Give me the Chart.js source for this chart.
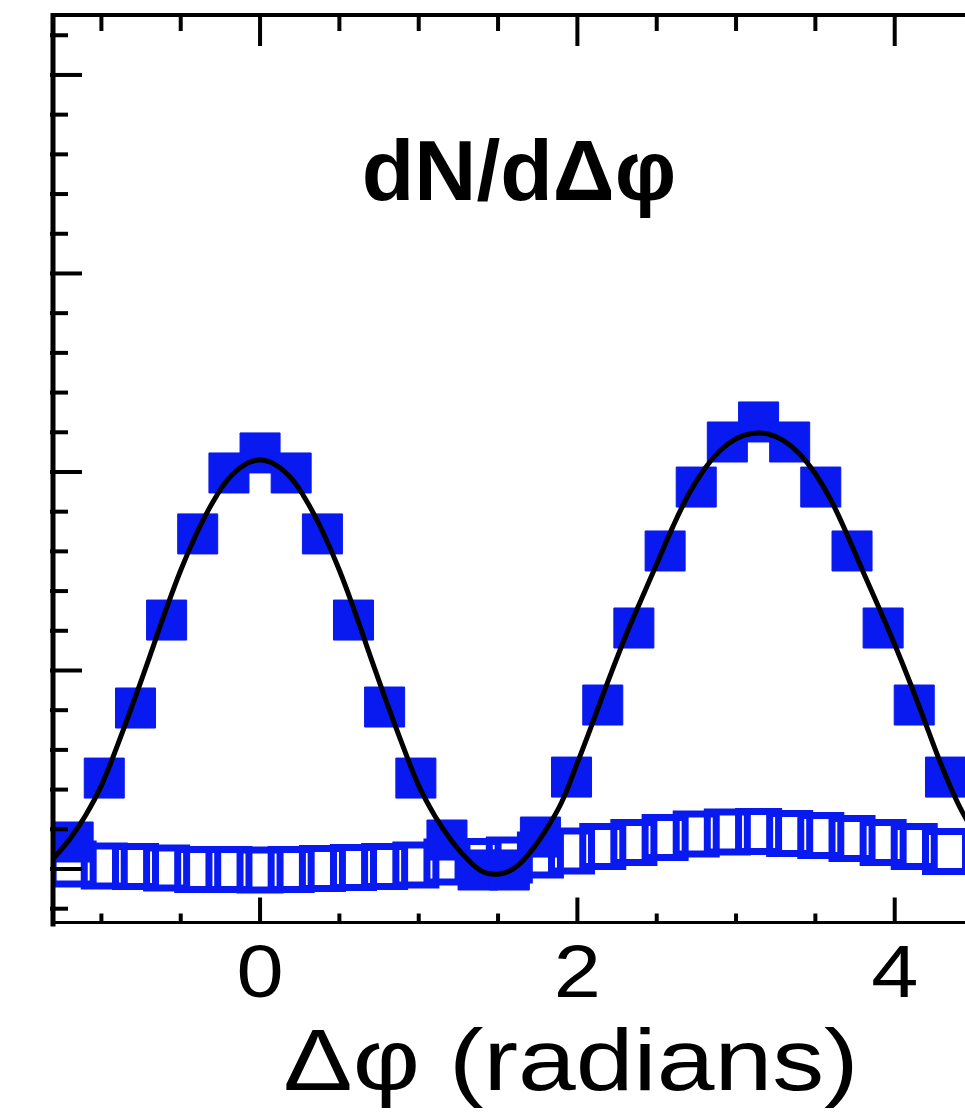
<!DOCTYPE html>
<html>
<head>
<meta charset="utf-8">
<script src="https://cdn.jsdelivr.net/npm/chart.js@4.4.0/dist/chart.umd.min.js"></script>
<style>
  html, body { margin: 0; padding: 0; background: #fff; overflow: hidden; }
  #plot { display: block; }
</style>
</head>
<body>
<canvas id="plot" width="965" height="1115"></canvas>
<script>
// bin centres (multiples of pi/16) and the two measured distributions
const binCenters = [-1.178, -0.982, -0.785, -0.589, -0.393, -0.196, 0, 0.196, 0.393, 0.589,
  0.785, 0.982, 1.178, 1.374, 1.571, 1.767, 1.963, 2.160, 2.356, 2.553,
  2.749, 2.945, 3.142, 3.338, 3.534, 3.731, 3.927, 4.123, 4.320];
const filledValues = [0.136, 0.458, 0.811, 1.254, 1.688, 1.995, 2.096, 1.995, 1.688, 1.254,
  0.816, 0.458, 0.146, -0.005, -0.005, 0.161, 0.463, 0.826, 1.214, 1.602,
  1.924, 2.151, 2.252, 2.151, 1.924, 1.602, 1.214, 0.826, 0.463];
const openValues = [0.025, 0.015, 0.013, 0.005, -0.003, -0.003, -0.005, -0.003, 0.003, 0.008,
  0.013, 0.020, 0.035, 0.038, 0.045, 0.071, 0.091, 0.113, 0.134, 0.159,
  0.176, 0.186, 0.189, 0.179, 0.169, 0.154, 0.134, 0.113, 0.088];

// fit curve
const fitX = [-1.3, -1.2, -1.1, -1.0, -0.9, -0.8, -0.7, -0.6, -0.5, -0.4, -0.3, -0.2, -0.1,
  0.0, 0.1, 0.2, 0.3, 0.4, 0.5, 0.6, 0.7, 0.8, 0.9, 1.0, 1.1, 1.2, 1.3, 1.4, 1.5,
  1.6, 1.7, 1.8, 1.9, 2.0, 2.1, 2.2, 2.3, 2.4, 2.5, 2.6, 2.7, 2.8, 2.9, 3.0, 3.1,
  3.2, 3.3, 3.4, 3.5, 3.6, 3.7, 3.8, 3.9, 4.0, 4.1, 4.2, 4.3, 4.4, 4.5];
const fitY = [0.055, 0.150, 0.270, 0.420, 0.620, 0.835, 1.060, 1.290, 1.505, 1.690, 1.845, 1.965, 2.035,
  2.060, 2.035, 1.965, 1.845, 1.690, 1.505, 1.290, 1.060, 0.835, 0.620, 0.420, 0.270, 0.150, 0.055, -0.012, -0.026,
  0.003, 0.082, 0.195, 0.335, 0.535, 0.745, 0.960, 1.165, 1.353, 1.536, 1.721, 1.885, 2.014, 2.108, 2.167, 2.194,
  2.191, 2.158, 2.092, 1.991, 1.855, 1.684, 1.499, 1.317, 1.131, 0.932, 0.721, 0.512, 0.328, 0.182];

const xMajorTicks = [0, 2, 4];
const xTickLabels = ["0", "2", "4"];
const xMinorStep = 0.5;
const yMinorStep = 0.2;

const blue = "rgb(8, 26, 240)";
const font = "'Liberation Sans', Arial, Helvetica, sans-serif";

function pairs(xs, ys) {
  return xs.map((x, i) => ({ x: x, y: ys[i] }));
}

function seg(ctx, x1, y1, x2, y2, w) {
  ctx.lineWidth = w;
  ctx.beginPath();
  ctx.moveTo(x1, y1);
  ctx.lineTo(x2, y2);
  ctx.stroke();
}

// the source figure is a little stretched sideways, so is its lettering
function wideText(ctx, text, cx, baseline, stretch) {
  ctx.save();
  ctx.translate(cx, baseline);
  ctx.scale(stretch, 1);
  ctx.fillText(text, 0, 0);
  ctx.restore();
}

/* axes frame, inward ticks and the texts */
const framePlugin = {
  id: "frame",
  afterDraw(chart) {
    const { ctx, chartArea: a, scales: { x, y } } = chart;
    ctx.save();
    ctx.strokeStyle = "#000";
    ctx.fillStyle = "#000";

    seg(ctx, a.left, a.top, a.right, a.top, 4);
    seg(ctx, a.left, a.bottom, a.right, a.bottom, 3);
    seg(ctx, a.left, a.top - 2, a.left, a.bottom + 4, 5);

    // x ticks, top and bottom
    for (let v = Math.ceil(x.min / xMinorStep) * xMinorStep; v <= x.max; v += xMinorStep) {
      const px = x.getPixelForValue(v);
      if (px < a.left + 4) continue;
      const major = xMajorTicks.includes(Math.round(v * 100) / 100);
      seg(ctx, px, a.top, px, a.top + (major ? 31 : 16), 4);
      seg(ctx, px, a.bottom, px, a.bottom - (major ? 25 : 9), 4);
    }

    // y ticks on the left
    for (let v = Math.ceil(y.min / yMinorStep) * yMinorStep; v <= y.max; v += yMinorStep) {
      const py = y.getPixelForValue(v);
      if (py < a.top + 4) continue;
      const major = Math.abs(v - Math.round(v)) < 0.01;
      seg(ctx, a.left - 3, py, a.left + (major ? 29 : 15), py, 4);
    }

    ctx.textAlign = "center";
    ctx.textBaseline = "alphabetic";
    ctx.font = "75px " + font;
    xMajorTicks.forEach((v, i) => {
      wideText(ctx, xTickLabels[i], x.getPixelForValue(v), 997, 1.13);
    });

    ctx.font = "88px " + font;
    wideText(ctx, "Δφ (radians)", 571, 1090, 1.18);

    ctx.font = "bold 86px " + font;
    ctx.fillText("dN/dΔφ", 519, 200);
    ctx.restore();
  }
};

const chart = new Chart(document.getElementById("plot"), {
  type: "scatter",
  data: {
    datasets: [
      {
        data: pairs(fitX, fitY),
        showLine: true,
        borderColor: "#000",
        borderWidth: 5,
        pointRadius: 0,
        tension: 0.4,
        clip: 0
      },
      {
        data: pairs(binCenters, filledValues),
        pointStyle: "rect",
        pointRadius: 28.3,
        backgroundColor: blue,
        borderColor: blue,
        borderWidth: 1,
        clip: 0
      },
      {
        data: pairs(binCenters, openValues),
        pointStyle: "rect",
        pointRadius: 28.3,
        backgroundColor: "rgba(0,0,0,0)",
        borderColor: blue,
        borderWidth: 7,
        clip: 0
      }
    ]
  },
  options: {
    responsive: false,
    animation: false,
    devicePixelRatio: 1,
    layout: { autoPadding: false, padding: { left: 53, top: 15, right: 0, bottom: 192.5 } },
    plugins: { legend: { display: false }, tooltip: { enabled: false } },
    scales: {
      x: { type: "linear", min: -1.305, max: 4.443, display: false },
      y: { type: "linear", min: -0.2695, max: 4.302, display: false }
    }
  },
  plugins: [framePlugin]
});
</script>
</body>
</html>
